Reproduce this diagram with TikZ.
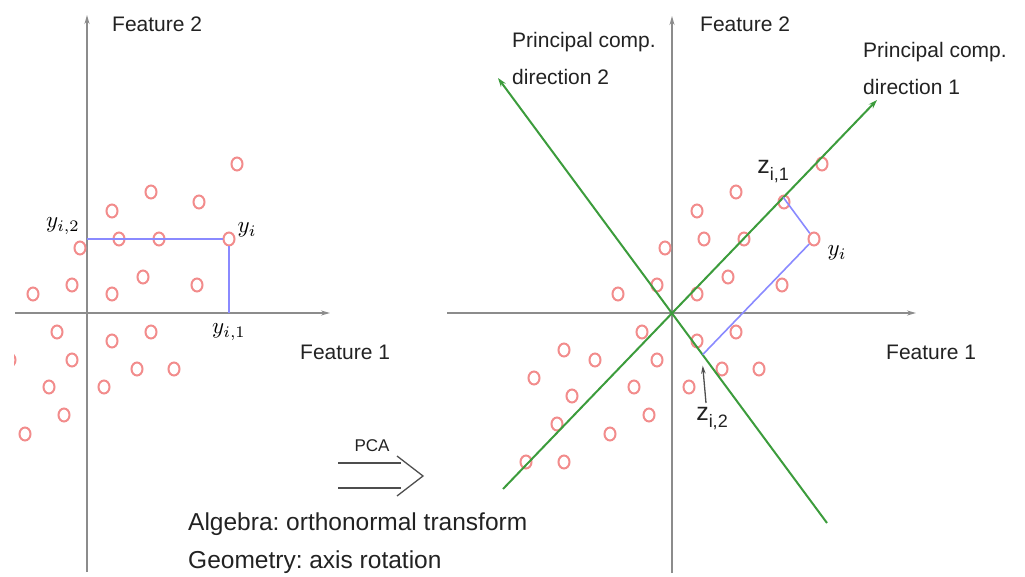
\documentclass[tikz,border=0pt]{standalone}
\usepackage{fontspec}
\setsansfont{Liberation Sans}
\usetikzlibrary{arrows.meta,calc,shapes.geometric}
\definecolor{axgray}{HTML}{8C8C8C}
\definecolor{pcgreen}{HTML}{3C9C3C}
\definecolor{projblue}{HTML}{8A8AFF}
\definecolor{ptpink}{HTML}{F28C8C}
\definecolor{txt}{HTML}{222222}
\newcommand{\zsub}[1]{\fontsize{25}{28}\selectfont z\raisebox{-7pt}{\fontsize{18}{18}\selectfont #1}}
\newcommand{\bigmath}[1]{\scalebox{2.3}{$#1$}}
\frenchspacing
\begin{document}
\begin{tikzpicture}[x=1pt,y=-1pt,
  axis/.style={draw=axgray,line width=2pt,-{Stealth[length=9pt,width=5pt]}},
  pcline/.style={draw=pcgreen,line width=2pt},
  pcarrow/.style={pcline,-{Stealth[length=9pt,width=6pt]}},
  proj/.style={draw=projblue,line width=2pt},
  pt/.style={ellipse,draw=ptpink,line width=2pt,minimum width=11pt,minimum height=13pt,inner sep=0pt},
  lab/.style={font=\sffamily\fontsize{21}{25}\selectfont,text=txt,inner sep=0pt,anchor=west},
  twolab/.style={font=\sffamily\fontsize{21}{37}\selectfont,text=txt,inner sep=0pt,anchor=north west,align=left},
  bigtxt/.style={font=\sffamily\fontsize{24.5}{29}\selectfont,text=txt,inner sep=0pt,anchor=west},
  mlab/.style={inner sep=0pt},
  zlab/.style={font=\sffamily,text=txt,inner sep=0pt},
  thin/.style={draw=txt!80,line width=1.3pt}]
\useasboundingbox (0,0) rectangle (1025,577);
\def\pts{150/-149,64/-121,112/-111,25/-102,32/-74,72/-74,142/-74,-7/-65,56/-36,110/-28,-15/-28,-54/-19,25/-19,-30/19,64/19,25/28,-15/47,-77/47,-108/37,50/56,87/56,-138/65,-38/74,17/74,-100/83,-23/102,-115/111,-62/121,-146/149,-108/149}

% ---------- left panel ----------
\draw[axis] (87,572) coordinate (La0) -- (87,15) coordinate (La1);
\draw[axis] (15,313) coordinate (Lb0) -- (330,313) coordinate (Lb1);
\begin{scope}
  \clip (14,0) rectangle (440,577);
  \begin{scope}[shift={(87,313)}]
    \foreach \x/\y [count=\i] in \pts { \node[pt] (L\i) at (\x,\y) {}; }
    \coordinate (Lh) at (0,-74);
    \coordinate (Lv) at (142,0);
  \end{scope}
\end{scope}
\draw[proj] (Lh) -- (L7);
\draw[proj] (L7) -- (Lv);
\node[lab] (LF2) at (112,24) {Feature 2};
\node[lab] (LF1) at (300,352) {Feature 1};
\node[mlab] (Lyi2) at (63,226) {\bigmath{y_{i,2}}};
\node[mlab] (Lyi) at (247,230) {\bigmath{y_i}};
\node[mlab] (Lyi1) at (229,332) {\bigmath{y_{i,1}}};

% ---------- PCA arrow & captions ----------
\node[font=\sffamily\fontsize{17}{20}\selectfont,text=txt,inner sep=0pt] (pca) at (372,446) {PCA};
\coordinate (pa1) at (338,463); \coordinate (pa2) at (401,463);
\coordinate (pb1) at (338,488); \coordinate (pb2) at (401,488);
\coordinate (ph1) at (397,456); \coordinate (ph2) at (423,476); \coordinate (ph3) at (397,496);
\draw[thin] (pa1) -- (pa2);
\draw[thin] (pb1) -- (pb2);
\draw[thin,line join=miter] (ph1) -- (ph2) -- (ph3);
\node[bigtxt] (alg) at (188,524) {Algebra: orthonormal transform};
\node[bigtxt] (geo) at (188,562) {Geometry: axis rotation};

% ---------- right panel ----------
\draw[axis] (672,573) coordinate (Ra0) -- (672,16) coordinate (Ra1);
\draw[axis] (447,313) coordinate (Rb0) -- (916,313) coordinate (Rb1);
\begin{scope}[shift={(672,313)}]
  \coordinate (O) at (0,0);
  \coordinate (P1t) at (205,-213);
  \coordinate (P1s) at (-169,176);
  \coordinate (P2t) at (-174,-235);
  \coordinate (P2s) at (155,210);
  \foreach \x/\y [count=\i] in \pts { \node[pt] (R\i) at (\x,\y) {}; }
  \coordinate (Y) at (142,-74);
  \coordinate (Yv) at (142+155,-74+210);
  \coordinate (Yu) at (142+205,-74-213);
\end{scope}
\draw[pcarrow] (P1s) -- (P1t);
\draw[pcarrow] (P2s) -- (P2t);
\coordinate (z1) at (intersection of O--P1t and Y--Yv);
\coordinate (z2) at (intersection of O--P2s and Y--Yu);
\draw[proj,line width=1.6pt] (z1) -- (R7);
\draw[proj,line width=1.6pt] (R7) -- (z2);
\node[lab] (RF2) at (700,24) {Feature 2};
\node[lab] (RF1) at (886,352) {Feature 1};
\node[twolab] (PC2lab) at (512,32) {Principal comp.\\direction 2};
\node[twolab] (PC1lab) at (863,42) {Principal comp.\\direction 1};
\node[mlab] (Ryi) at (837,253) {\bigmath{y_i}};
\node[zlab] (z1lab) at (773,172) {\zsub{i,1}};
\node[zlab] (z2lab) at (712,419) {\zsub{i,2}};
\coordinate (z2foot) at (706,403);
\coordinate (z2tip) at ($(z2)+(0,11)$);
\draw[thin,-{Stealth[length=8pt,width=4.5pt]}] (z2foot) -- (z2tip);
\end{tikzpicture}
\end{document}
